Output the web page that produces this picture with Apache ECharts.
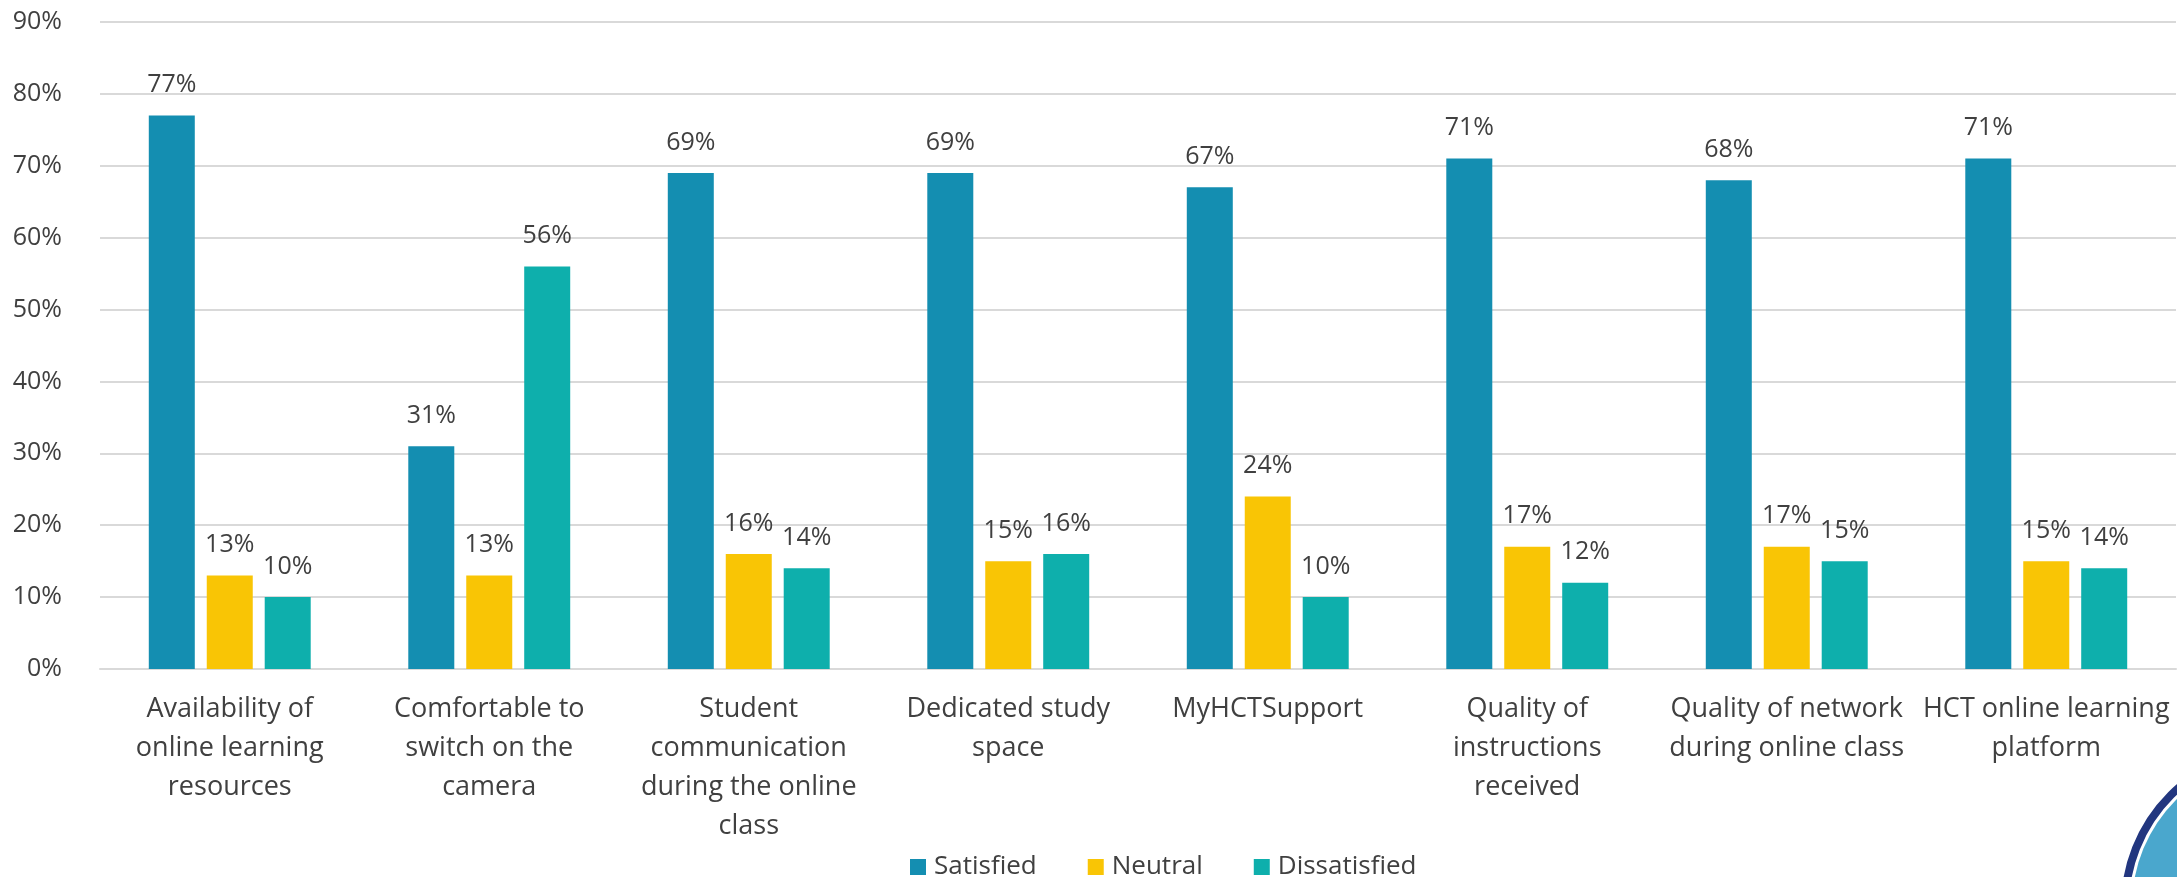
<!DOCTYPE html>
<html>
<head>
<meta charset="utf-8">
<script src="https://cdn.jsdelivr.net/npm/echarts@6/dist/echarts.min.js"></script>
<style>
  html, body { margin: 0; padding: 0; background: #fff; }
  #chart { width: 2177px; height: 877px; }
</style>
</head>
<body>
<div id="chart"></div>
<script>
// survey items, wrapped the way the picture shows them
var categories = [
  'Availability of\nonline learning\nresources',
  'Comfortable to\nswitch on the\ncamera',
  'Student\ncommunication\nduring the online\nclass',
  'Dedicated study\nspace',
  'MyHCTSupport',
  'Quality of\ninstructions\nreceived',
  'Quality of network\nduring online class',
  'HCT online learning\nplatform'
];
var satisfied = [77, 31, 69, 69, 67, 71, 68, 71];
var neutral = [13, 13, 16, 15, 24, 17, 17, 15];
var dissatisfied = [10, 56, 14, 16, 10, 12, 15, 14];

var yMax = 90;
var yStep = 10;

var textColor = '#404040';
var font = '"Open Sans", "Noto Sans", sans-serif';

function barSeries(name, data, color) {
  return {
    name: name,
    type: 'bar',
    data: data,
    barWidth: 46,
    barGap: '26%',
    itemStyle: { color: color },
    label: {
      show: true,
      position: 'top',
      distance: 18,
      formatter: '{c}%',
      color: textColor,
      fontFamily: font,
      fontSize: 25,
      lineHeight: 25
    }
  };
}

var chart = echarts.init(document.getElementById('chart'));
chart.setOption({
  animation: false,
  backgroundColor: '#fff',
  grid: { left: 100, right: 1, top: 22, bottom: 208, containLabel: false },
  xAxis: {
    type: 'category',
    data: categories,
    axisLine: { show: true, lineStyle: { color: '#D9D9D9', width: 2 } },
    axisTick: { show: false },
    axisLabel: {
      interval: 0,
      margin: 21,
      color: textColor,
      fontFamily: font,
      fontSize: 27,
      lineHeight: 39,
      align: 'center'
    }
  },
  yAxis: {
    type: 'value',
    min: 0,
    max: yMax,
    interval: yStep,
    axisLine: { show: false },
    axisTick: { show: false },
    splitLine: { lineStyle: { color: '#D9D9D9', width: 2 } },
    axisLabel: {
      formatter: '{value}%',
      margin: 38,
      color: textColor,
      fontFamily: font,
      fontSize: 25
    }
  },
  legend: {
    left: 905,
    top: 847,
    itemWidth: 16,
    itemHeight: 16,
    itemGap: 51,
    icon: 'rect',
    textStyle: { color: textColor, fontFamily: font, fontSize: 26, lineHeight: 30, padding: [0, 0, 0, 3] },
    data: ['Satisfied', 'Neutral', 'Dissatisfied']
  },
  graphic: [
    {
      type: 'circle',
      shape: { cx: 2282, cy: 906, r: 157 },
      style: { fill: 'none', stroke: '#22367F', lineWidth: 8 },
      z: 100
    },
    {
      type: 'circle',
      shape: { cx: 2282, cy: 906, r: 150 },
      style: { fill: '#4AA7CD' },
      z: 100
    }
  ],
  series: [
    barSeries('Satisfied', satisfied, '#148EB1'),
    barSeries('Neutral', neutral, '#F9C505'),
    barSeries('Dissatisfied', dissatisfied, '#0EAFAC')
  ]
});
</script>
</body>
</html>
